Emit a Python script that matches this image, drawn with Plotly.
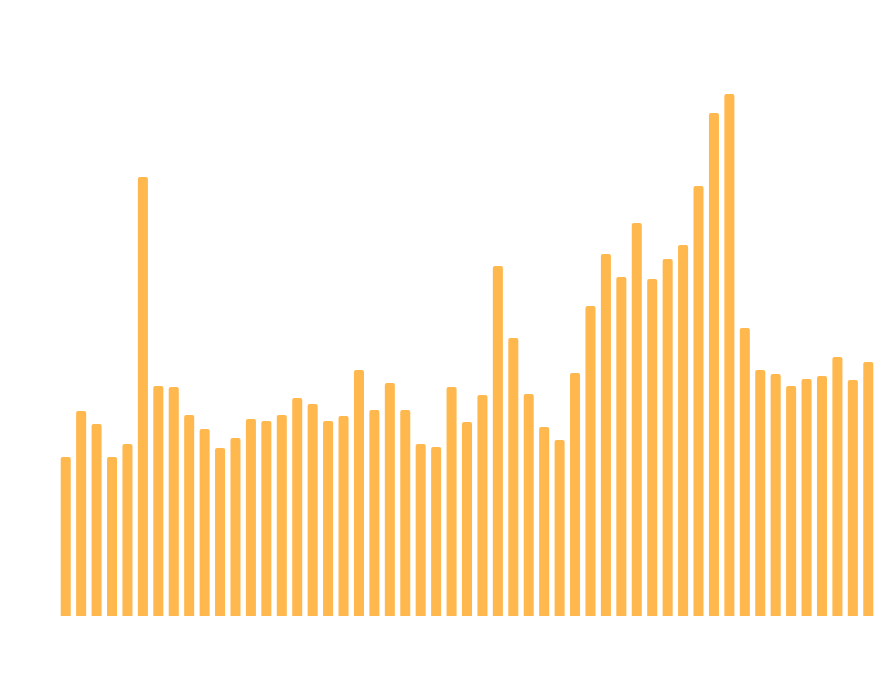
import plotly.graph_objects as go

categories = [str(i) for i in range(1, 54)]
values = [159, 205, 192, 159, 172, 439, 230, 229, 201, 187, 168, 178, 197, 195,
          201, 218, 212, 195, 200, 246, 206, 233, 206, 172, 169, 229, 194, 221,
          350, 278, 222, 189, 176, 243, 310, 362, 339, 393, 337, 357, 371, 430,
          503, 522, 288, 246, 242, 230, 237, 240, 259, 236, 254]

fig = go.Figure(go.Bar(x=categories, y=values, marker=dict(color="#FFB84D", line=dict(width=0)),
                       hoverinfo="x+y"))
fig.update_layout(
    width=879, height=686,
    margin=dict(l=58, r=3, t=16, b=70),
    paper_bgcolor="white", plot_bgcolor="white",
    bargap=0.35, barcornerradius=2,
    showlegend=False,
    xaxis=dict(visible=False, type="category"),
    yaxis=dict(visible=False, range=[0, 600]),
)
fig.write_html(
    "out.html",
    config={"displayModeBar": False},
    post_script="document.body.style.margin='0';document.body.style.overflow='hidden';",
)
